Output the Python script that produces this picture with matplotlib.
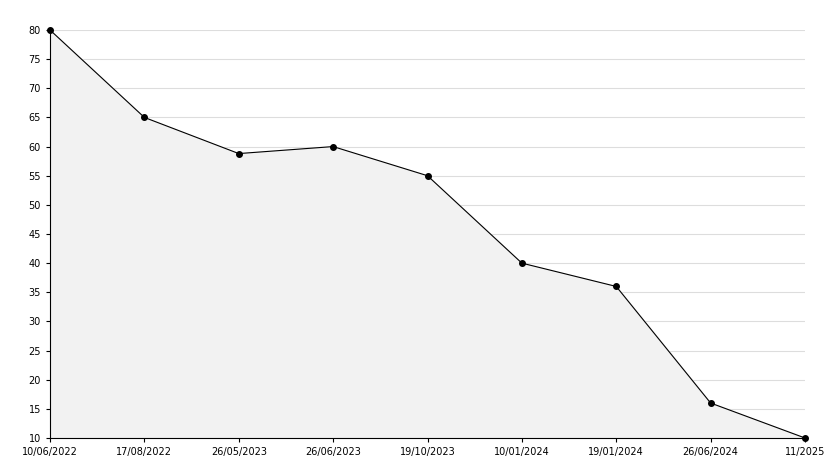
import matplotlib.pyplot as plt

dates = ["10/06/2022", "17/08/2022", "26/05/2023", "26/06/2023", "19/10/2023",
         "10/01/2024", "19/01/2024", "26/06/2024", "11/2025"]
values = [80, 65, 58.8, 60, 55, 40, 36, 16, 10]

fig = plt.figure(figsize=(8.34, 4.68), dpi=100)
ax = fig.add_axes([50 / 834, 30 / 468, 755 / 834, 408 / 468])

x = list(range(len(dates)))
ax.fill_between(x, values, 10, color="#f2f2f2", zorder=1)
ax.plot(x, values, color="black", linewidth=0.8, marker="o", markersize=4,
        zorder=3, clip_on=False)

ax.set_xlim(0, len(dates) - 1)
ax.set_ylim(10, 80)
ax.set_yticks(range(10, 81, 5))
ax.set_xticks(x)
ax.set_xticklabels(dates)
ax.grid(axis="y", color="#dddddd", linewidth=0.8, zorder=0)
ax.set_axisbelow(True)
for s in ["top", "right"]:
    ax.spines[s].set_visible(False)
ax.tick_params(labelsize=7, length=3)

plt.savefig("out.png", dpi=100)
